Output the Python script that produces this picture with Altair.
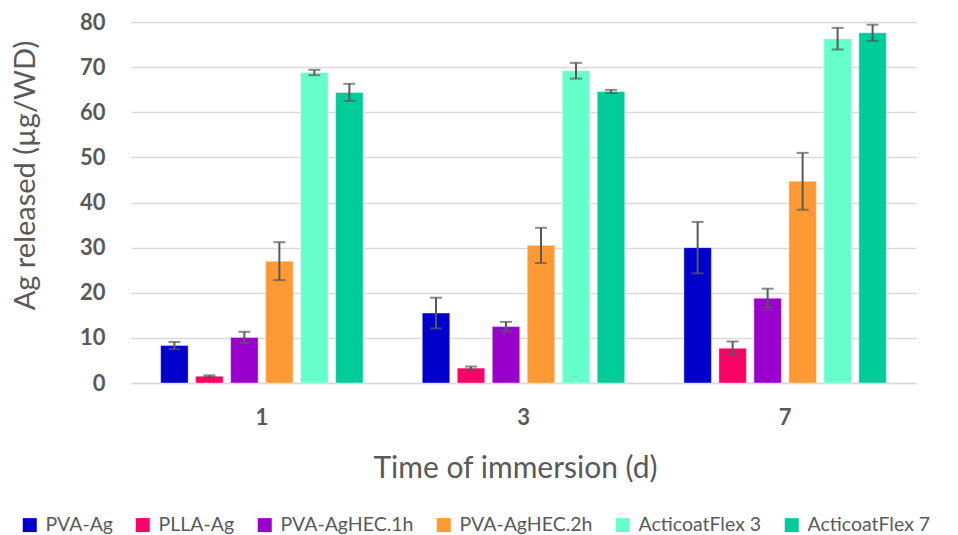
import altair as alt
import pandas as pd

days = ["1", "3", "7"]
series = ["PVA-Ag", "PLLA-Ag", "PVA-AgHEC.1h", "PVA-AgHEC.2h", "ActicoatFlex 3", "ActicoatFlex 7"]
colors = ["#0000CC", "#FF0066", "#9900CC", "#FF9933", "#66FFCC", "#00CC99"]

# values per series for days 1, 3, 7
means = {
    "PVA-Ag": [8.3, 15.5, 30.0],
    "PLLA-Ag": [1.5, 3.3, 7.7],
    "PVA-AgHEC.1h": [10.1, 12.5, 18.8],
    "PVA-AgHEC.2h": [27.0, 30.5, 44.7],
    "ActicoatFlex 3": [68.8, 69.2, 76.3],
    "ActicoatFlex 7": [64.4, 64.6, 77.6],
}
errors = {
    "PVA-Ag": [0.8, 3.4, 5.7],
    "PLLA-Ag": [0.2, 0.35, 1.5],
    "PVA-AgHEC.1h": [1.25, 1.05, 2.1],
    "PVA-AgHEC.2h": [4.2, 3.9, 6.3],
    "ActicoatFlex 3": [0.6, 1.75, 2.4],
    "ActicoatFlex 7": [1.9, 0.35, 1.8],
}

rows = []
for s in series:
    for i, d in enumerate(days):
        m = means[s][i]
        e = errors[s][i]
        rows.append({"day": d, "series": s, "value": m, "lo": m - e, "hi": m + e})
df = pd.DataFrame(rows)

FONT = "Lato"
GRAY = "#595959"

x = alt.X("day:N", sort=days,
          scale=alt.Scale(paddingInner=0.1975, paddingOuter=0.099),
          axis=alt.Axis(title="Time of immersion (d)", labelAngle=0, labelFontWeight="bold",
                        labelFontSize=22, labelColor=GRAY, labelPadding=24, ticks=False,
                        domainColor="#d9d9d9", domainWidth=1.5,
                        titleFontSize=30, titleFontWeight="normal", titleColor=GRAY,
                        titleX=384, titleAlign="center",
                        titleY=94, titleBaseline="alphabetic"))
xo = alt.XOffset("series:N", sort=series,
                 scale=alt.Scale(paddingInner=0.214, paddingOuter=0.107))
y = alt.Y("value:Q", scale=alt.Scale(domain=[0, 80]),
          axis=alt.Axis(title="Ag released (µg/WD)", values=list(range(0, 81, 10)),
                        labelFontWeight="bold", labelFontSize=22, labelColor=GRAY,
                        labelPadding=26, ticks=False, domain=False,
                        gridColor="#d9d9d9", gridWidth=1.5,
                        titleFontSize=29, titleFontWeight="normal", titleColor=GRAY,
                        titleX=-106, titleY=153, titleBaseline="middle"))

bars = alt.Chart(df).mark_bar(strokeWidth=1, strokeOpacity=0.4, stroke="white").encode(
    x=x, xOffset=xo, y=y,
    color=alt.Color("series:N", sort=series,
                    scale=alt.Scale(domain=series, range=colors),
                    legend=alt.Legend(title=None, orient="none", direction="horizontal",
                                      legendX=-111, legendY=493, symbolType="square",
                                      symbolSize=196, symbolStrokeWidth=0,
                                      labelFontSize=19.5, labelColor=GRAY, labelFont=FONT,
                                      columnPadding=20, labelOffset=6, labelLimit=300)),
)

err = alt.Chart(df).mark_rule(color=GRAY, strokeWidth=2).encode(
    x=alt.X("day:N", sort=days), xOffset=alt.XOffset("series:N", sort=series),
    y=alt.Y("lo:Q"), y2="hi:Q")
caps_lo = alt.Chart(df).mark_tick(color=GRAY, thickness=2, size=12).encode(
    x=alt.X("day:N", sort=days), xOffset=alt.XOffset("series:N", sort=series),
    y=alt.Y("lo:Q"))
caps_hi = alt.Chart(df).mark_tick(color=GRAY, thickness=2, size=12).encode(
    x=alt.X("day:N", sort=days), xOffset=alt.XOffset("series:N", sort=series),
    y=alt.Y("hi:Q"))

chart = alt.layer(bars, err, caps_lo, caps_hi).properties(
    width=785, height=361,
    autosize=alt.AutoSizeParams(type="none"),
    padding={"left": 131, "top": 22, "right": 42, "bottom": 152},
).configure(font=FONT).configure_view(stroke=None).configure_axis(labelFont=FONT, titleFont=FONT)

chart.save("out.html", embed_options={"renderer": "svg", "actions": False})
